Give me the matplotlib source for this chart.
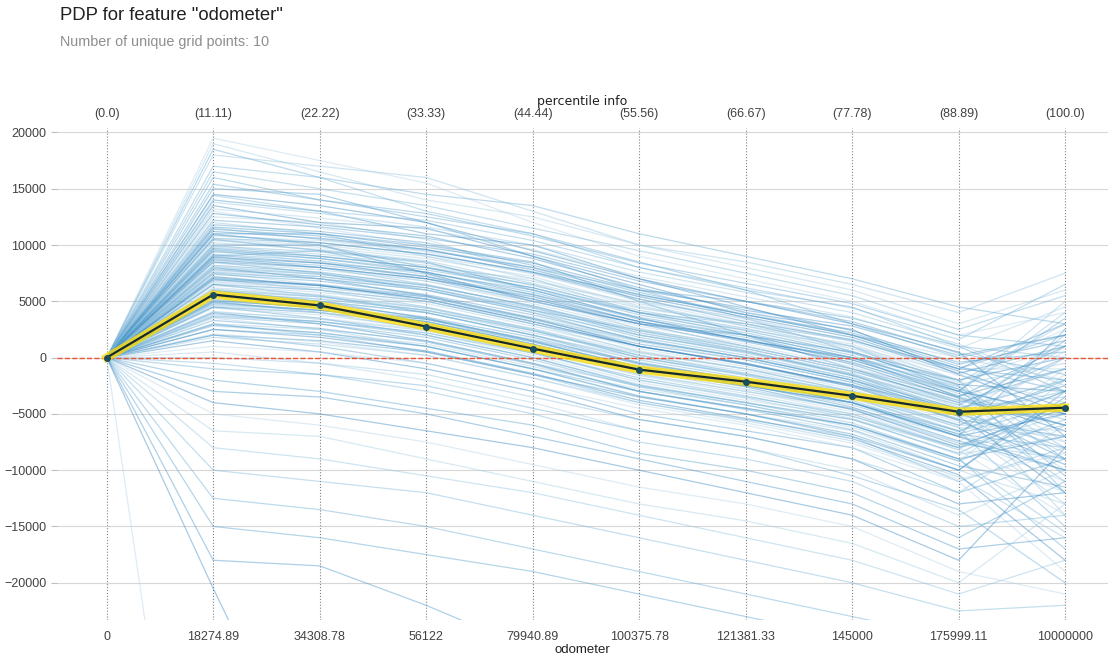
import numpy as np
import matplotlib
matplotlib.use("Agg")
from matplotlib import pyplot as plt

plt.rcParams['font.family'] = ['Liberation Sans', 'DejaVu Sans']

# grid points of the feature and their percentiles
grid_labels = ['0', '18274.89', '34308.78', '56122', '79940.89', '100375.78',
               '121381.33', '145000', '175999.11', '10000000']
percentile_labels = ['(0.0)', '(11.11)', '(22.22)', '(33.33)', '(44.44)', '(55.56)',
                     '(66.67)', '(77.78)', '(88.89)', '(100.0)']

# PDP (average) line
pdp_values = [0, 5600, 4630, 2760, 800, -1070, -2140, -3390, -4810, -4450]

# ICE lines, in thousands, values at grid points 1..9 (point 0 is the centre, 0)
ice_thousands = [
    [19.5, 17.5, 15.5, 12, 9, 7, 5, 2, 4],
    [19, 16.5, 14, 12.5, 10, 8, 6, 3, 6],
    [18, 17, 16, 13, 10, 8.5, 6.5, 4, 7.5],
    [17, 16, 13, 11, 8, 6, 4.5, 1, 0],
    [16, 14, 12.5, 11, 8.5, 6, 3, 0, 2],
    [15, 14.5, 12, 9, 6, 5, 3.5, 1, -3],
    [14, 13, 11, 10, 7, 4.5, 2, -1, 3],
    [13.5, 12, 11.5, 9, 6.5, 4, 2.5, -1.5, -5],
    [13, 11.5, 10, 8, 5, 3, 1, -2, 1],
    [12.5, 12, 10.5, 7.5, 5.5, 4, 2, 0, -2],
    [12, 11, 9, 7, 4, 2.5, 1, -3, 4],
    [11.5, 10.5, 9.5, 8, 6, 3.5, 0.5, -2.5, -8],
    [11, 10, 8, 6.5, 4, 3, 1.5, -1, 2],
    [11, 11, 10, 8.5, 5, 2, -1, -4, -1],
    [10.5, 9.5, 8.5, 6, 3.5, 1.5, 0, -3.5, -6],
    [10, 10, 7.5, 5, 3, 2, 0.5, -2, 0],
    [10, 9, 8, 7, 4.5, 3, 1, -1.5, -4],
    [9.5, 8.5, 7, 5.5, 2.5, 1, -1, -4, -10],
    [9.5, 9, 8, 6, 4, 2, -0.5, -3, 5],
    [9, 8, 6.5, 4.5, 2, 0.5, -1.5, -5, -3],
    [9, 9.5, 7.5, 6, 3.5, 1.5, 0, -2, -12],
    [8.5, 7.5, 6, 4, 1.5, 0, -2, -4.5, -2],
    [8.5, 8, 7, 5, 3, 1, -1, -3.5, 1],
    [8, 7, 5.5, 3.5, 1, -0.5, -2.5, -5.5, -7],
    [8, 7.5, 6.5, 4.5, 2.5, 1, -1, -3, -5],
    [7.5, 6.5, 5, 3, 0.5, -1, -3, -6, -4],
    [7.5, 7, 6, 4, 2, 0.5, -1.5, -4, -14],
    [7, 6, 4.5, 2.5, 0, -1.5, -3, -5, 2],
    [7, 6.5, 5.5, 3.5, 1.5, 0, -2, -5, -8],
    [6.5, 5.5, 4, 2, -0.5, -2, -4, -6.5, -3],
    [6.5, 6, 5, 3, 1, -0.5, -2.5, -4.5, -9],
    [6, 5, 3.5, 1.5, -1, -2.5, -4, -7, -5],
    [6, 5.5, 4.5, 2.5, 0.5, -1, -2.5, -5.5, 0],
    [5.5, 4.5, 3, 1, -1.5, -3, -4.5, -7, -11],
    [5.5, 5, 4, 2, 0, -1.5, -3.5, -6, -2],
    [5, 4, 2.5, 0.5, -2, -3.5, -5, -8, -6],
    [5, 4.5, 3.5, 1.5, -0.5, -2, -3.5, -6.5, -15],
    [4.5, 3.5, 2, 0, -2.5, -4, -5.5, -8.5, -4],
    [4.5, 4, 3, 1, -1, -2.5, -4, -7, -10],
    [4, 3, 1.5, -0.5, -3, -4.5, -6, -9, -7],
    [4, 3.5, 2.5, 0.5, -1.5, -3, -4.5, -7.5, -1],
    [3.5, 2.5, 1, -1, -3.5, -5, -6.5, -10, -13],
    [3, 2.5, 1.5, -0.5, -2.5, -4, -5.5, -8, -5],
    [3, 2, 0.5, -1.5, -4, -5.5, -7, -11, -8],
    [2.5, 2, 1, -1, -3, -4.5, -6, -9, -17],
    [2, 1, -0.5, -2.5, -5, -6.5, -8, -12, -9],
    [2, 1.5, 0.5, -1.5, -3.5, -5, -7, -10, -3],
    [1.5, 0.5, -1, -3, -5.5, -7, -9, -13, -12],
    [1, 0.5, -0.5, -2.5, -4.5, -6, -8, -11, -19],
    [0.5, -0.5, -2, -4, -6.5, -8, -10, -14, -10],
    [0, -0.5, -1.5, -3.5, -5.5, -7, -9, -12, -6],
    [-0.5, -1.5, -3, -5, -7.5, -9, -11, -15, -14],
    [-1, -1.5, -2.5, -4.5, -6.5, -8, -10.5, -13.5, -20],
    [-2, -3, -4.5, -6, -8.5, -10, -12, -16, -11],
    [-3, -3.5, -5, -7, -9, -11, -13, -17, -16],
    [-4, -5, -6.5, -8, -10, -12, -14, -18, -8],
    [-5, -6, -7.5, -9.5, -11.5, -13, -15, -19, -21],
    [-6.5, -7, -9, -11, -13, -14.5, -16.5, -20, -13],
    [-8, -9, -10.5, -12, -14, -16, -18, -21, -18],
    [-10, -11, -12, -14, -16, -18, -20, -22.5, -22],
    [-12.5, -13.5, -15, -17, -19, -21, -23, -25, -24],
    [-15, -16, -17.5, -19, -21, -23, -25, -27, -26],
    [-18, -18.5, -22, -26, -28, -30, -32, -34, -32],
    [-20.5, -40, -50, -55, -60, -62, -64, -66, -64],
    [-65, -66, -68, -70, -72, -74, -76, -78, -76],
    [10.5, 10, 9, 7.5, 5, 3.5, 1.5, -1, -1],
    [9.8, 9.2, 8.2, 6.8, 4.8, 2.8, 0.8, -2.2, 3],
    [9.2, 8.6, 7.4, 5.2, 3.2, 1.8, -0.2, -3.2, -6],
    [8.8, 8.2, 7.2, 5.6, 3.6, 2, 0, -2.6, -9],
    [8.2, 7.6, 6.4, 4.6, 2.2, 0.6, -1.6, -4.2, 0],
    [7.8, 7.2, 6.2, 4.2, 2.4, 0.8, -1.2, -3.8, -6],
    [7.2, 6.4, 5.2, 3.2, 1, -0.6, -2.4, -5.2, -12],
    [6.8, 6.2, 5.4, 3.6, 1.6, 0, -1.8, -4.6, -2],
    [6.2, 5.6, 4.4, 2.4, 0.2, -1.2, -3.2, -6.2, -7],
    [5.8, 5.2, 4.2, 2.2, 0.4, -1, -3, -5.4, 1],
    [5.2, 4.4, 3.2, 1.2, -1.2, -2.8, -4.6, -7.6, -9],
    [4.8, 4.2, 3.4, 1.6, -0.4, -2, -4, -6.8, -4],
    [11.8, 11.2, 10.2, 8.2, 5.8, 3.8, 2.2, -0.8, -3],
    [12.8, 11.8, 10.8, 8.8, 6.2, 4.2, 2.8, 0.2, 2],
    [14.5, 13.5, 12, 9.5, 7, 5, 3, 0.5, -7],
    [3.8, 3.2, 2.2, 0.2, -2.2, -3.8, -5.2, -8.2, -14],
    [2.8, 2.2, 1.2, -0.8, -2.8, -4.2, -6.2, -9.2, -2],
    [1.8, 1.2, 0.2, -1.8, -4, -5.6, -7.4, -10.6, -16],
    [16.5, 15, 13.5, 11.5, 9.5, 7.5, 5.5, 2.5, 5.5],
    [18.5, 16, 14.5, 13.5, 11, 9, 7, 4.5, 3],
    [12.2, 11.6, 10.6, 9.2, 6.8, 5, 3.2, 0.4, -1.5],
    [11.6, 11, 9.8, 8.4, 6, 4.4, 2.4, -0.6, 1.5],
    [11.2, 10.6, 9.6, 7.8, 5.4, 3.6, 1.8, -1.2, -4.5],
    [10.8, 10.4, 9.4, 7.4, 5.2, 3.4, 1.4, -1.6, 2.5],
    [10.4, 9.8, 8.8, 7.2, 4.6, 2.8, 1.2, -2, -7.5],
    [10.2, 9.6, 8.6, 6.6, 4.4, 3, 1, -2.4, -0.5],
    [9.9, 9.4, 8.4, 6.4, 4.2, 2.6, 0.6, -2.8, -5.5],
    [9.6, 8.8, 7.8, 6.2, 3.8, 2.2, 0.2, -3, 3.5],
    [9.4, 8.8, 7.6, 5.8, 3.4, 2, 0, -2.8, -10.5],
    [9.1, 8.4, 7.6, 5.6, 3.2, 1.4, -0.4, -3.4, -1],
    [8.9, 8.4, 7.2, 5.2, 3, 1.6, -0.6, -3.6, -6.5],
    [8.6, 8, 6.8, 5, 2.8, 1.2, -0.8, -3.8, 0.5],
    [8.4, 7.8, 6.8, 4.8, 2.6, 0.8, -1.2, -4, -8.5],
    [8.1, 7.4, 6.4, 4.6, 2.4, 0.6, -1.4, -4.4, -3.5],
    [7.9, 7.4, 6.2, 4.4, 2, 0.4, -1.6, -4.6, -11],
    [7.6, 7, 6, 4.2, 1.8, 0.2, -1.8, -4.8, 1.5],
    [7.4, 6.8, 5.6, 3.8, 1.6, 0, -2, -5, -5],
    [7.1, 6.4, 5.4, 3.4, 1.2, -0.2, -2.2, -5.2, -2.5],
    [6.9, 6.4, 5.2, 3.2, 1, -0.6, -2.6, -5.6, -9.5],
    [6.6, 6, 5, 3.2, 0.8, -0.8, -2.8, -5.8, 0],
    [6.4, 5.8, 4.8, 2.8, 0.6, -1, -3, -6, -6.5],
    [6.1, 5.4, 4.4, 2.6, 0.2, -1.4, -3.4, -6.2, -13],
    [5.9, 5.4, 4.2, 2.4, 0, -1.6, -3.6, -6.6, -3],
    [5.6, 5, 4, 2, -0.2, -1.8, -3.8, -6.8, -8],
    [5.4, 4.8, 3.6, 1.8, -0.6, -2.2, -4, -7, 2.5],
    [5.1, 4.4, 3.4, 1.4, -0.8, -2.4, -4.4, -7.4, -10],
    [4.9, 4.2, 3.2, 1.2, -1, -2.6, -4.6, -7.8, -4.5],
    [4.6, 4, 3, 1, -1.4, -3, -4.8, -8, -12],
    [4.4, 3.8, 2.6, 0.8, -1.6, -3.2, -5, -8.2, -1.5],
    [4.1, 3.4, 2.4, 0.4, -2, -3.6, -5.4, -8.6, -7],
    [3.9, 3.2, 2, 0, -2.4, -4, -5.8, -9, -15.5],
    [3.6, 3, 1.8, -0.2, -2.6, -4.2, -6, -9.2, -5.5],
    [3.3, 2.6, 1.4, -0.6, -3, -4.6, -6.4, -9.6, -11.5],
    [2.9, 2.2, 1, -1, -3.4, -5, -6.8, -10, -3.5],
    [2.5, 1.8, 0.6, -1.4, -3.8, -5.4, -7.2, -10.4, -18],
    [2.1, 1.4, 0.2, -1.8, -4.2, -5.8, -7.6, -10.8, -8.5],
    [13.2, 12.4, 11.4, 9.6, 7.2, 5.4, 3.6, 0.8, 4.5],
    [13.8, 12.8, 11.6, 10, 7.6, 5.8, 4, 1.2, -2.5],
    [14.4, 13, 12.2, 10.4, 8, 6.2, 4.4, 1.6, 6.5],
    [15.4, 14, 12.8, 10.8, 8.4, 6.6, 4.8, 2, 1],
    [10.6, 10.2, 9.2, 7.6, 5.6, 3.8, 2, -0.4, 0.5],
    [9.7, 9, 8, 6.2, 4, 2.4, 0.4, -2.4, -3],
    [8.7, 8, 7, 5.4, 3.2, 1.6, -0.2, -3, -5],
    [7.7, 7.2, 6, 4.4, 2.2, 0.6, -1.4, -4.2, -1],
    [6.7, 6.2, 5.2, 3.4, 1.4, -0.2, -2.2, -5, -7.5],
    [5.7, 5.2, 4.2, 2.4, 0.2, -1.4, -3.2, -6, -2],
    [4.7, 4.2, 3.2, 1.4, -0.8, -2.4, -4.2, -7, -9],
    [3.7, 3.2, 2.2, 0.4, -1.8, -3.4, -5.2, -8, -4],
    [11.4, 10.8, 9.6, 8, 5.6, 3.8, 2, -1, -2],
    [10.9, 10.2, 9.2, 7.6, 5.2, 3.2, 1.6, -1.4, 1],
]

x = np.arange(len(grid_labels))
ice = np.hstack([np.zeros((len(ice_thousands), 1)), np.array(ice_thousands) * 1000])

fig = plt.figure(figsize=(11.11, 6.56), dpi=100)
ax = fig.add_axes([0.051, 0.055, 0.946, 0.75])

# ICE lines
colors = plt.get_cmap('Blues')(np.linspace(0, 1, 20))[6:14]
for i, row in enumerate(ice):
    ax.plot(x, row, color=colors[i % len(colors)], linewidth=0.9, alpha=0.42, zorder=1)

# center line
ax.axhline(0, color='#E75438', linestyle='--', linewidth=1, zorder=3)

# PDP line with highlight
ax.plot(x, pdp_values, color='#FEDC00', linewidth=6, alpha=0.75, zorder=4)
ax.plot(x, pdp_values, color='#17292B', linewidth=1.6, zorder=5)
ax.scatter(x, pdp_values, color='#1A4E5D', s=16, zorder=6)

ax.set_xlim(-0.47, 9.4)
ax.set_ylim(-23300, 20400)
ax.set_xticks(x)
ax.set_xticklabels(grid_labels)
ax.set_yticks(np.arange(-20000, 20001, 5000))
ax.set_xlabel('odometer', fontsize=9.5, color='#212121', labelpad=1)

ax.grid(axis='x', color='#616161', linestyle=':', linewidth=0.8, alpha=0.8)
ax.grid(axis='y', color='#BDBDBD', linestyle='-', linewidth=0.8, alpha=0.6)
ax.set_axisbelow(True)
for s in ax.spines.values():
    s.set_visible(False)
ax.tick_params(axis='both', labelsize=9, labelcolor='#424242', colors='#BDBDBD', length=4)
ax.tick_params(axis='x', length=0, pad=8)

# top axis with percentile info
top = ax.twiny()
top.set_xlim(ax.get_xlim())
top.set_xticks(x)
top.set_xticklabels(percentile_labels)
top.set_xlabel('percentile info', fontsize=9, color='#212121', family='DejaVu Sans', labelpad=2)
top.tick_params(axis='x', labelsize=9, labelcolor='#424242', length=0, pad=6)
for s in top.spines.values():
    s.set_visible(False)

fig.text(0.054, 0.99, 'PDP for feature "odometer"', fontsize=13.3, color='#212121', va='top')
fig.text(0.054, 0.946, 'Number of unique grid points: 10', fontsize=10.4, color='#8E8E8E', va='top')

fig.savefig('out.png', dpi=100)
